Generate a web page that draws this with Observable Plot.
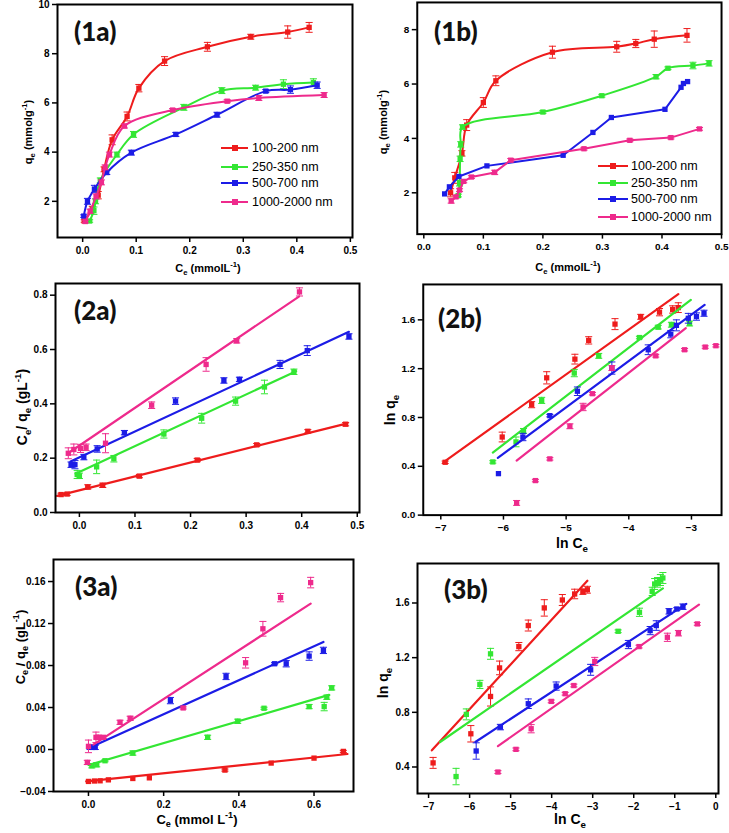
<!DOCTYPE html>
<html><head><meta charset="utf-8">
<script src="https://cdn.jsdelivr.net/npm/d3@7"></script>
<script src="https://cdn.jsdelivr.net/npm/@observablehq/plot@0.6"></script>
<style>
body{margin:0;background:#fff;}
#page{position:relative;width:729px;height:833px;overflow:hidden;font-family:"Liberation Sans",Arial,sans-serif;background:#fff;}
.panel{position:absolute;}
.lbl{position:absolute;font-weight:bold;white-space:nowrap;color:#000;transform:translate(-50%,-50%);line-height:1;}
.ylbl{transform:translate(-50%,-50%) rotate(-90deg);}
.tag{position:absolute;font-family:Lato,"Open Sans",sans-serif;font-weight:900;font-size:26px;line-height:1;color:#111;}
.leg{position:absolute;font-size:12.5px;line-height:1;white-space:nowrap;transform:translateY(-50%);}
.legline{position:absolute;height:2px;transform:translateY(-50%);}
.legsq{position:absolute;width:6px;height:6px;transform:translate(-50%,-50%);}
sub,sup{font-size:70%;line-height:0;}
</style>
</head><body><div id="page"></div>
<script>
// ---------- series names and colours ----------
const seriesNames = ["100-200 nm","250-350 nm","500-700 nm","1000-2000 nm"];
const seriesColors = ["#ee1c1c","#33e633","#1c1ce6","#ee2a8c"];

// ---------- panel 1a : [Ce, qe, err] ----------
const p1a_red   = [[0.003,1.2,0.05],[0.018,1.7,0.1],[0.029,2.25,0.15],[0.04,3.3,0.1],[0.055,4.5,0.2],[0.083,5.45,0.18],[0.105,6.6,0.15],[0.153,7.7,0.18],[0.233,8.28,0.18],[0.314,8.69,0.1],[0.383,8.88,0.25],[0.423,9.07,0.2]];
const p1a_green = [[0.013,1.2,0.05],[0.021,1.62,0.15],[0.024,2.0,0.1],[0.033,2.85,0.1],[0.064,3.9,0.1],[0.095,4.72,0.12],[0.189,5.82,0.12],[0.26,6.5,0.12],[0.323,6.62,0.1],[0.375,6.76,0.18],[0.431,6.83,0.15]];
const p1a_blue  = [[0.002,1.4,0.05],[0.009,2.0,0.12],[0.022,2.5,0.15],[0.045,3.17,0.08],[0.091,3.98,0.1],[0.174,4.72,0.08],[0.251,5.52,0.1],[0.342,6.48,0.06],[0.388,6.54,0.15],[0.438,6.72,0.13]];
const p1a_pink  = [[0.005,1.18,0.05],[0.014,1.6,0.08],[0.025,2.2,0.1],[0.035,2.77,0.1],[0.042,3.38,0.1],[0.05,3.9,0.1],[0.078,5.06,0.08],[0.168,5.71,0.06],[0.27,6.07,0.06],[0.329,6.2,0.1],[0.451,6.32,0.1]];

// ---------- panel 1b ----------
const p1b_red   = [[0.045,2.0,0.15],[0.052,2.55,0.2],[0.064,3.45,0.1],[0.072,4.49,0.2],[0.100,5.32,0.18],[0.121,6.12,0.18],[0.216,7.17,0.22],[0.324,7.37,0.2],[0.356,7.49,0.15],[0.387,7.65,0.3],[0.442,7.79,0.25]];
const p1b_green = [[0.058,1.9,0.05],[0.06,2.35,0.1],[0.061,3.25,0.1],[0.062,3.78,0.1],[0.065,4.42,0.08],[0.2,4.97,0.05],[0.299,5.57,0.05],[0.39,6.27,0.08],[0.41,6.58,0.05],[0.452,6.68,0.12],[0.479,6.76,0.1]];
const p1b_blue  = [[0.035,1.96,0],[0.043,2.22,0],[0.059,2.6,0],[0.106,2.99,0],[0.234,3.38,0],[0.284,4.22,0],[0.315,4.77,0],[0.405,5.07,0],[0.432,5.88,0],[0.436,6.02,0],[0.443,6.09,0]];
const p1b_pink  = [[0.046,1.7,0.08],[0.054,1.85,0.05],[0.06,2.1,0.05],[0.067,2.42,0.05],[0.08,2.58,0.05],[0.119,2.75,0.08],[0.146,3.2,0.06],[0.269,3.62,0.05],[0.346,3.93,0.05],[0.415,4.03,0.05],[0.463,4.35,0.05]];

// ---------- panel 2a : [Ce, Ce/qe, err] + fitted line ends ----------
const p2a_red   = [[-0.033,0.066,0.005],[-0.022,0.068,0.005],[0.015,0.094,0.008],[0.042,0.10,0.008],[0.108,0.134,0.006],[0.212,0.193,0.006],[0.319,0.249,0.005],[0.411,0.299,0.006],[0.479,0.325,0.006]];
const p2a_green = [[-0.004,0.14,0.015],[0.0,0.135,0.01],[0.031,0.168,0.025],[0.062,0.198,0.012],[0.152,0.289,0.015],[0.22,0.347,0.018],[0.281,0.41,0.015],[0.333,0.462,0.025],[0.386,0.518,0.01]];
const p2a_blue  = [[-0.015,0.176,0.01],[-0.008,0.176,0.015],[0.008,0.204,0.01],[0.032,0.234,0.012],[0.081,0.294,0.008],[0.173,0.41,0.012],[0.26,0.486,0.01],[0.288,0.49,0.008],[0.361,0.545,0.015],[0.41,0.596,0.018],[0.485,0.648,0.01]];
const p2a_pink  = [[-0.02,0.218,0.02],[-0.01,0.232,0.02],[0.002,0.236,0.015],[0.012,0.24,0.012],[0.047,0.255,0.035],[0.13,0.395,0.012],[0.228,0.545,0.025],[0.283,0.632,0.008],[0.396,0.812,0.015]];
const p2a_fit_red   = [[-0.04,0.061],[0.482,0.328]];
const p2a_fit_green = [[-0.007,0.143],[0.39,0.52]];
const p2a_fit_blue  = [[-0.016,0.188],[0.485,0.665]];
const p2a_fit_pink  = [[-0.019,0.22],[0.395,0.795]];

// ---------- panel 2b : [ln Ce, ln qe, err] ----------
const p2b_red   = [[-6.93,0.433,0.01],[-6.02,0.64,0.04],[-5.55,0.905,0.025],[-5.31,1.125,0.05],[-4.86,1.278,0.04],[-4.64,1.432,0.03],[-4.22,1.565,0.045],[-3.81,1.625,0.02],[-3.51,1.663,0.03],[-3.30,1.685,0.03],[-3.21,1.70,0.04]];
const p2b_green = [[-6.17,0.436,0.01],[-5.80,0.60,0.04],[-5.68,0.69,0.02],[-5.39,0.94,0.025],[-4.87,1.164,0.03],[-4.48,1.305,0.02],[-3.83,1.455,0.01],[-3.53,1.54,0.015],[-3.32,1.56,0.02],[-3.03,1.57,0.02]];
const p2b_blue  = [[-6.08,0.34,0],[-5.69,0.64,0.03],[-5.26,0.815,0.01],[-4.82,1.015,0.035],[-4.27,1.205,0.05],[-3.69,1.355,0.04],[-3.33,1.483,0.03],[-3.24,1.555,0.045],[-3.05,1.613,0.04],[-2.92,1.627,0.03],[-2.80,1.654,0.025]];
const p2b_pink  = [[-5.79,0.10,0.02],[-5.49,0.283,0.01],[-5.26,0.461,0.01],[-4.94,0.728,0.02],[-4.73,0.886,0.03],[-4.58,0.995,0.01],[-4.27,1.205,0.02],[-3.57,1.305,0.01],[-3.11,1.355,0.01],[-2.78,1.377,0.01],[-2.61,1.388,0.01]];
const p2b_fit_red   = [[-6.96,0.433],[-3.21,1.81]];
const p2b_fit_green = [[-6.17,0.512],[-3.01,1.763]];
const p2b_fit_blue  = [[-6.09,0.469],[-2.79,1.722]];
const p2b_fit_pink  = [[-5.79,0.447],[-3.09,1.532]];

// ---------- panel 3a : [Ce, Ce/qe, err] ----------
const p3a_red   = [[0.0,-0.0304,0],[0.016,-0.030,0],[0.031,-0.0298,0],[0.053,-0.0289,0],[0.118,-0.0276,0],[0.162,-0.027,0],[0.363,-0.0196,0.001],[0.486,-0.0129,0],[0.6,-0.0082,0],[0.678,-0.0018,0.001]];
const p3a_green = [[0.009,-0.0155,0.002],[0.022,-0.0145,0.002],[0.044,-0.0107,0.001],[0.118,-0.0034,0.002],[0.317,0.0116,0.002],[0.397,0.0269,0.002],[0.467,0.0393,0.001],[0.587,0.0409,0.002],[0.627,0.0409,0.004],[0.634,0.0498,0.002],[0.647,0.0587,0.002]];
const p3a_blue  = [[0.004,0.0022,0.002],[0.01,0.002,0.002],[0.018,0.002,0.002],[0.218,0.0466,0.003],[0.366,0.0696,0.003],[0.495,0.0817,0.001],[0.526,0.0817,0.003],[0.587,0.089,0.004],[0.625,0.0944,0.003]];
const p3a_pink  = [[-0.003,-0.0123,0.002],[0.0,0.003,0.006],[0.02,0.0116,0.005],[0.027,0.0116,0.002],[0.04,0.0116,0.001],[0.084,0.0259,0.002],[0.111,0.0297,0.002],[0.252,0.0396,0.001],[0.418,0.0826,0.005],[0.464,0.115,0.007],[0.511,0.1447,0.004],[0.591,0.159,0.005]];
const p3a_fit_red   = [[-0.006,-0.0304],[0.689,-0.0043]];
const p3a_fit_green = [[0.0,-0.0148],[0.64,0.052]];
const p3a_fit_blue  = [[0.004,0.002],[0.625,0.1024]];
const p3a_fit_pink  = [[0.013,0.0046],[0.591,0.139]];

// ---------- panel 3b : [ln Ce, ln qe, err] ----------
const p3b_red   = [[-6.89,0.43,0.04],[-5.97,0.643,0.06],[-5.49,0.916,0.07],[-5.27,1.125,0.05],[-4.80,1.281,0.03],[-4.57,1.435,0.04],[-4.18,1.564,0.06],[-3.74,1.622,0.04],[-3.44,1.666,0.035],[-3.24,1.683,0.02],[-3.13,1.697,0.025]];
const p3b_green = [[-6.33,0.33,0.06],[-6.08,0.785,0.04],[-5.75,1.004,0.03],[-5.49,1.228,0.04],[-2.38,1.393,0.01],[-1.86,1.532,0.03],[-1.55,1.685,0.03],[-1.49,1.739,0.04],[-1.42,1.751,0.035],[-1.35,1.768,0.04],[-1.29,1.783,0.04]];
const p3b_blue  = [[-5.84,0.517,0.06],[-5.25,0.692,0.02],[-4.57,0.863,0.035],[-3.89,0.992,0.03],[-3.05,1.111,0.04],[-2.13,1.296,0.03],[-1.60,1.398,0.03],[-1.45,1.435,0.035],[-1.14,1.539,0.02],[-0.95,1.556,0.01],[-0.80,1.573,0.02]];
const p3b_pink  = [[-5.31,0.363,0.01],[-4.87,0.529,0.01],[-4.50,0.68,0.03],[-4.01,0.88,0.01],[-3.67,0.936,0.01],[-3.46,0.996,0.01],[-2.95,1.172,0.03],[-1.87,1.281,0.01],[-1.18,1.349,0.03],[-0.91,1.379,0.02],[-0.45,1.447,0.01]];
const p3b_fit_red   = [[-6.92,0.522],[-3.13,1.763]];
const p3b_fit_green = [[-6.72,0.583],[-1.29,1.707]];
const p3b_fit_blue  = [[-5.86,0.583],[-0.72,1.593]];
const p3b_fit_pink  = [[-5.31,0.553],[-0.41,1.588]];

// ---------- tick values ----------
const ticks1aX = [0,0.1,0.2,0.3,0.4,0.5];
const ticks1aY = [2,4,6,8,10];
const ticks1bX = [0,0.1,0.2,0.3,0.4,0.5];
const ticks1bY = [2,4,6,8];
const ticks2aX = [0,0.1,0.2,0.3,0.4,0.5];
const ticks2aY = [0,0.2,0.4,0.6,0.8];
const ticks2bX = [-7,-6,-5,-4,-3];
const ticks2bY = [0,0.4,0.8,1.2,1.6];
const ticks3aX = [0,0.2,0.4,0.6];
const ticks3aY = [-0.04,0,0.04,0.08,0.12,0.16];
const ticks3bX = [-7,-6,-5,-4,-3,-2,-1,0];
const ticks3bY = [0.4,0.8,1.2,1.6];

// ---------- layout ----------
const page = document.getElementById("page");
const ML=44, MR=8, MT=8, MB=28;
const capSym = {draw(ctx,size){const w=Math.sqrt(size);ctx.moveTo(-w,0);ctx.lineTo(w,0);}};

function panel(p){
  const [L,R,T,B] = p.frame;
  const marks = [];
  p.data.forEach((data,i)=>{
    const c = seriesColors[i];
    const e = data.filter(d=>d[2]>0);
    if (p.fits) marks.push(Plot.line(p.fits[i],{x:d=>d[0],y:d=>d[1],stroke:c,strokeWidth:2.2}));
    marks.push(Plot.ruleX(e,{x:d=>d[0],y1:d=>d[1]-d[2],y2:d=>d[1]+d[2],stroke:c,strokeWidth:1}));
    marks.push(Plot.dot(e,{x:d=>d[0],y:d=>d[1]+d[2],symbol:capSym,r:2,stroke:c,fill:"none",strokeWidth:1}));
    marks.push(Plot.dot(e,{x:d=>d[0],y:d=>d[1]-d[2],symbol:capSym,r:2,stroke:c,fill:"none",strokeWidth:1}));
    if (p.curves) marks.push(Plot.line(data,{x:d=>d[0],y:d=>d[1],stroke:c,strokeWidth:2,curve:p.curves[i]}));
    marks.push(Plot.dot(data,{x:d=>d[0],y:d=>d[1],symbol:"square",r:3,fill:c,stroke:"none"}));
  });
  marks.push(Plot.axisX({ticks:p.xt,tickFormat:p.xf,tickSize:5,tickPadding:4,strokeWidth:1.5,label:null}));
  marks.push(Plot.axisY({ticks:p.yt,tickFormat:p.yf,tickSize:5,tickPadding:3,strokeWidth:1.5,label:null}));
  marks.push(Plot.frame({stroke:"#000",strokeWidth:2}));
  const svg = Plot.plot({
    width:(R-L)+ML+MR, height:(B-T)+MT+MB,
    marginLeft:ML, marginRight:MR, marginTop:MT, marginBottom:MB,
    x:{domain:p.xd}, y:{domain:p.yd},
    style:{fontFamily:"'Liberation Sans',Arial,sans-serif",fontSize:"10px",fontWeight:"bold",background:"transparent",overflow:"visible",color:"#000"},
    marks
  });
  const div = document.createElement("div");
  div.className="panel";
  div.style.left=(L-ML)+"px"; div.style.top=(T-MT)+"px";
  div.appendChild(svg);
  page.appendChild(div);
}

function addText(cls,html,x,y,size){
  const d=document.createElement("div");
  d.className=cls; d.innerHTML=html;
  d.style.left=x+"px"; d.style.top=y+"px";
  if(size) d.style.fontSize=size+"px";
  page.appendChild(d);
}

function legend(x0,x1,tx,ys){
  ys.forEach((y,i)=>{
    const ln=document.createElement("div"); ln.className="legline";
    ln.style.left=x0+"px"; ln.style.width=(x1-x0)+"px"; ln.style.top=y+"px"; ln.style.background=seriesColors[i];
    page.appendChild(ln);
    const sq=document.createElement("div"); sq.className="legsq";
    sq.style.left=((x0+x1)/2)+"px"; sq.style.top=y+"px"; sq.style.background=seriesColors[i];
    page.appendChild(sq);
    addText("leg",seriesNames[i],tx,y);
  });
}

const f1 = d3.format(".1f"), f0 = d3.format("d"), f2 = d3.format(".2f");
const cr = "catmull-rom";

panel({frame:[57,352,4,237], xd:[-0.047,0.504], yd:[0.53,10], xt:ticks1aX, yt:ticks1aY, xf:f1, yf:f0,
  data:[p1a_red,p1a_green,p1a_blue,p1a_pink], curves:[cr,cr,cr,cr]});
panel({frame:[417,723,2,235], xd:[-0.011,0.5], yd:[0.48,9], xt:ticks1bX, yt:ticks1bY, xf:f1, yf:f0,
  data:[p1b_red,p1b_green,p1b_blue,p1b_pink], curves:[cr,cr,"linear","linear"]});
panel({frame:[55,359,283,512], xd:[-0.043,0.504], yd:[0,0.843], xt:ticks2aX, yt:ticks2aY, xf:f1, yf:f1,
  data:[p2a_red,p2a_green,p2a_blue,p2a_pink], fits:[p2a_fit_red,p2a_fit_green,p2a_fit_blue,p2a_fit_pink]});
panel({frame:[423,723,284,516], xd:[-7.28,-2.52], yd:[0,1.89], xt:ticks2bX, yt:ticks2bY, xf:f0, yf:f1,
  data:[p2b_red,p2b_green,p2b_blue,p2b_pink], fits:[p2b_fit_red,p2b_fit_green,p2b_fit_blue,p2b_fit_pink]});
panel({frame:[53,353,559,791], xd:[-0.093,0.705], yd:[-0.04,0.181], xt:ticks3aX, yt:ticks3aY, xf:f1, yf:f2,
  data:[p3a_red,p3a_green,p3a_blue,p3a_pink], fits:[p3a_fit_red,p3a_fit_green,p3a_fit_blue,p3a_fit_pink]});
panel({frame:[417,718,563,793], xd:[-7.27,0.066], yd:[0.206,1.889], xt:ticks3bX, yt:ticks3bY, xf:f0, yf:f1,
  data:[p3b_red,p3b_green,p3b_blue,p3b_pink], fits:[p3b_fit_red,p3b_fit_green,p3b_fit_blue,p3b_fit_pink]});

// panel tags
addText("tag","(1a)",74,18);
addText("tag","(1b)",434,18);
addText("tag","(2a)",74,297);
addText("tag","(2b)",438,305);
addText("tag","(3a)",75,573);
addText("tag","(3b)",444,576);

// axis labels
addText("lbl ylbl","q<sub>e</sub> (mmolg<sup>-1</sup>)",28,132,11);
addText("lbl","C<sub>e</sub> (mmolL<sup>-1</sup>)",208,268,11);
addText("lbl ylbl","q<sub>e</sub> (mmolg<sup>-1</sup>)",383,122,11);
addText("lbl","C<sub>e</sub> (mmolL<sup>-1</sup>)",568,267,11);
addText("lbl ylbl","C<sub>e</sub>/ q<sub>e</sub> (gL<sup>-1</sup>)",22,407,14);
addText("lbl ylbl","ln q<sub>e</sub>",390,410,14);
addText("lbl","ln C<sub>e</sub>",572,543,14);
addText("lbl ylbl","C<sub>e</sub> / q<sub>e</sub> (gL<sup>-1</sup>)",20,647,13);
addText("lbl","C<sub>e</sub> (mmol L<sup>-1</sup>)",197,819,13);
addText("lbl ylbl","ln q<sub>e</sub>",383,683,14);
addText("lbl","ln C<sub>e</sub>",570,819,14);

// legends
legend(221,248,252,[148,167,183,202]);
legend(598,628,631,[166,183,199,217]);
</script></body></html>
